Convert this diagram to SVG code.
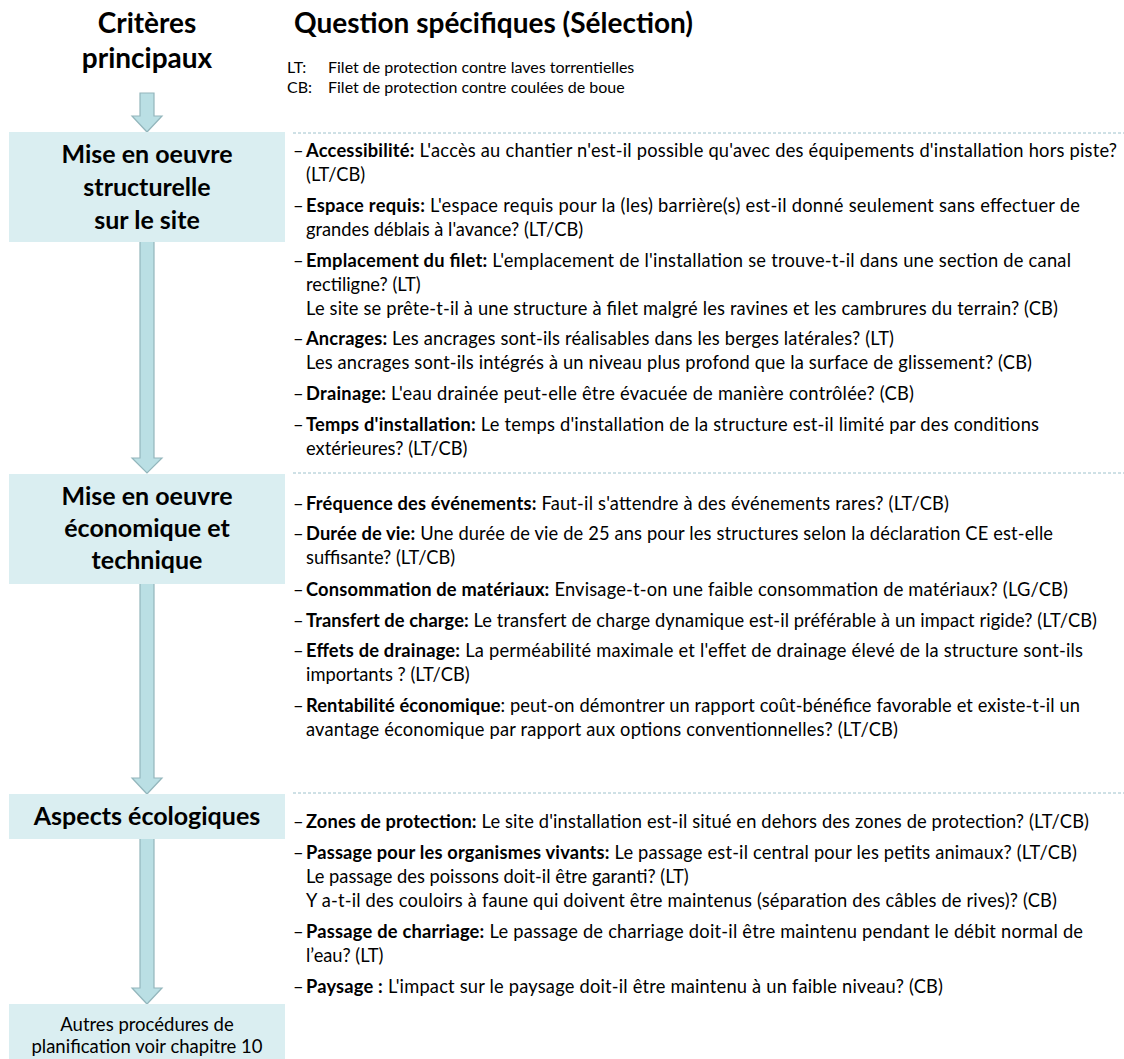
<svg xmlns="http://www.w3.org/2000/svg" width="1124" height="1059" viewBox="0 0 1124 1059">
<style>
text { font-family: Lato, "Open Sans", "Noto Sans", sans-serif; fill: #000; }
.t { font-size: 18.3px; }
.b { font-weight: bold; }
.hd { font-size: 28px; font-weight: bold; }
.lab { font-size: 25px; font-weight: bold; text-anchor: middle; }
.small { font-size: 18.5px; text-anchor: middle; }
.leg { font-size: 16px; }
.box { fill: #DAEEF1; }
.arrow { fill: #BADFE4; stroke: #93B6BC; stroke-width: 1.2; }
.sep { stroke: #9EC2CC; stroke-width: 1; stroke-dasharray: 3 2; fill: none; }
</style>
<rect width="1124" height="1059" fill="#fff"/>

<g id="connectors">
  <polygon class="arrow" points="140,93 154,93 154,116 162,116 147,132 132,116 140,116"/>
  <polygon class="arrow" points="140,240 154,240 154,458 162,458 147,473 132,458 140,458"/>
  <polygon class="arrow" points="140,582 154,582 154,778 162,778 147,794 132,778 140,778"/>
  <polygon class="arrow" points="140,837 154,837 154,988 162,988 147,1004 132,988 140,988"/>
</g>

<g id="headers">
  <text class="hd" x="147" y="33" text-anchor="middle">Critères</text>
  <text class="hd" x="147" y="68" text-anchor="middle">principaux</text>
  <text class="hd" x="294" y="33">Question spécifiques (Sélection)</text>
  <text class="leg" x="287" y="73">LT:</text>
  <text class="leg" x="328" y="73">Filet de protection contre laves torrentielles</text>
  <text class="leg" x="287" y="93">CB:</text>
  <text class="leg" x="328" y="93">Filet de protection contre coulées de boue</text>
</g>

<g id="node-structurelle">
  <rect class="box" x="9" y="132" width="276" height="110"/>
  <text class="lab" x="147" y="163">Mise en oeuvre</text>
  <text class="lab" x="147" y="196">structurelle</text>
  <text class="lab" x="147" y="229">sur le site</text>
</g>
<g id="node-economique">
  <rect class="box" x="9" y="474" width="276" height="110"/>
  <text class="lab" x="147" y="505">Mise en oeuvre</text>
  <text class="lab" x="147" y="537">économique et</text>
  <text class="lab" x="147" y="569">technique</text>
</g>
<g id="node-ecologiques">
  <rect class="box" x="9" y="794" width="276" height="45"/>
  <text class="lab" x="147" y="825">Aspects écologiques</text>
</g>
<g id="node-autres">
  <rect class="box" x="9" y="1004" width="276" height="60"/>
  <text class="small" x="147" y="1031">Autres procédures de</text>
  <text class="small" x="147" y="1053">planification voir chapitre 10</text>
</g>

<g id="separators">
  <line class="sep" x1="293" y1="133" x2="1124" y2="133"/>
  <line class="sep" x1="293" y1="473" x2="1124" y2="473"/>
  <line class="sep" x1="293" y1="793" x2="1124" y2="793"/>
</g>

<g id="questions-structurelle">
  <text class="t" x="293" y="157">–</text>
  <text class="t" x="306" y="157" textLength="811"><tspan class="b">Accessibilité:</tspan> L'accès au chantier n'est-il possible qu'avec des équipements d'installation hors piste?</text>
  <text class="t" x="306" y="181">(LT/CB)</text>
  <text class="t" x="293" y="212">–</text>
  <text class="t" x="306" y="212" textLength="774"><tspan class="b">Espace requis:</tspan> L'espace requis pour la (les) barrière(s) est-il donné seulement sans effectuer de</text>
  <text class="t" x="306" y="236">grandes déblais à l'avance? (LT/CB)</text>
  <text class="t" x="293" y="267">–</text>
  <text class="t" x="306" y="267" textLength="765"><tspan class="b">Emplacement du filet:</tspan> L'emplacement de l'installation se trouve-t-il dans une section de canal</text>
  <text class="t" x="306" y="291">rectiligne? (LT)</text>
  <text class="t" x="306" y="315" textLength="752">Le site se prête-t-il à une structure à filet malgré les ravines et les cambrures du terrain? (CB)</text>
  <text class="t" x="293" y="345">–</text>
  <text class="t" x="306" y="345" textLength="588"><tspan class="b">Ancrages:</tspan> Les ancrages sont-ils réalisables dans les berges latérales? (LT)</text>
  <text class="t" x="306" y="369" textLength="726">Les ancrages sont-ils intégrés à un niveau plus profond que la surface de glissement? (CB)</text>
  <text class="t" x="293" y="400">–</text>
  <text class="t" x="306" y="400" textLength="608"><tspan class="b">Drainage:</tspan> L'eau drainée peut-elle être évacuée de manière contrôlée? (CB)</text>
  <text class="t" x="293" y="431">–</text>
  <text class="t" x="306" y="431" textLength="733"><tspan class="b">Temps d'installation:</tspan> Le temps d'installation de la structure est-il limité par des conditions</text>
  <text class="t" x="306" y="455">extérieures? (LT/CB)</text>
</g>

<g id="questions-economique">
  <text class="t" x="293" y="510">–</text>
  <text class="t" x="306" y="510" textLength="643"><tspan class="b">Fréquence des événements:</tspan> Faut-il s'attendre à des événements rares? (LT/CB)</text>
  <text class="t" x="293" y="540">–</text>
  <text class="t" x="306" y="540" textLength="747"><tspan class="b">Durée de vie:</tspan> Une durée de vie de 25 ans pour les structures selon la déclaration CE est-elle</text>
  <text class="t" x="306" y="564">suffisante? (LT/CB)</text>
  <text class="t" x="293" y="596">–</text>
  <text class="t" x="306" y="596" textLength="762"><tspan class="b">Consommation de matériaux:</tspan> Envisage-t-on une faible consommation de matériaux? (LG/CB)</text>
  <text class="t" x="293" y="627">–</text>
  <text class="t" x="306" y="627" textLength="791"><tspan class="b">Transfert de charge:</tspan> Le transfert de charge dynamique est-il préférable à un impact rigide? (LT/CB)</text>
  <text class="t" x="293" y="657">–</text>
  <text class="t" x="306" y="657" textLength="777"><tspan class="b">Effets de drainage:</tspan> La perméabilité maximale et l'effet de drainage élevé de la structure sont-ils</text>
  <text class="t" x="306" y="681">importants ? (LT/CB)</text>
  <text class="t" x="293" y="712">–</text>
  <text class="t" x="306" y="712" textLength="774"><tspan class="b">Rentabilité économique</tspan>: peut-on démontrer un rapport coût-bénéfice favorable et existe-t-il un</text>
  <text class="t" x="306" y="736" textLength="592">avantage économique par rapport aux options conventionnelles? (LT/CB)</text>
</g>

<g id="questions-ecologiques">
  <text class="t" x="293" y="828">–</text>
  <text class="t" x="306" y="828" textLength="783"><tspan class="b">Zones de protection:</tspan> Le site d'installation est-il situé en dehors des zones de protection? (LT/CB)</text>
  <text class="t" x="293" y="859">–</text>
  <text class="t" x="306" y="859" textLength="771"><tspan class="b">Passage pour les organismes vivants:</tspan> Le passage est-il central pour les petits animaux? (LT/CB)</text>
  <text class="t" x="306" y="883">Le passage des poissons doit-il être garanti? (LT)</text>
  <text class="t" x="306" y="907" textLength="751">Y a-t-il des couloirs à faune qui doivent être maintenus (séparation des câbles de rives)? (CB)</text>
  <text class="t" x="293" y="938">–</text>
  <text class="t" x="306" y="938" textLength="777"><tspan class="b">Passage de charriage:</tspan> Le passage de charriage doit-il être maintenu pendant le débit normal de</text>
  <text class="t" x="306" y="962">l’eau? (LT)</text>
  <text class="t" x="293" y="993">–</text>
  <text class="t" x="306" y="993" textLength="637"><tspan class="b">Paysage :</tspan> L'impact sur le paysage doit-il être maintenu à un faible niveau? (CB)</text>
</g>
</svg>
